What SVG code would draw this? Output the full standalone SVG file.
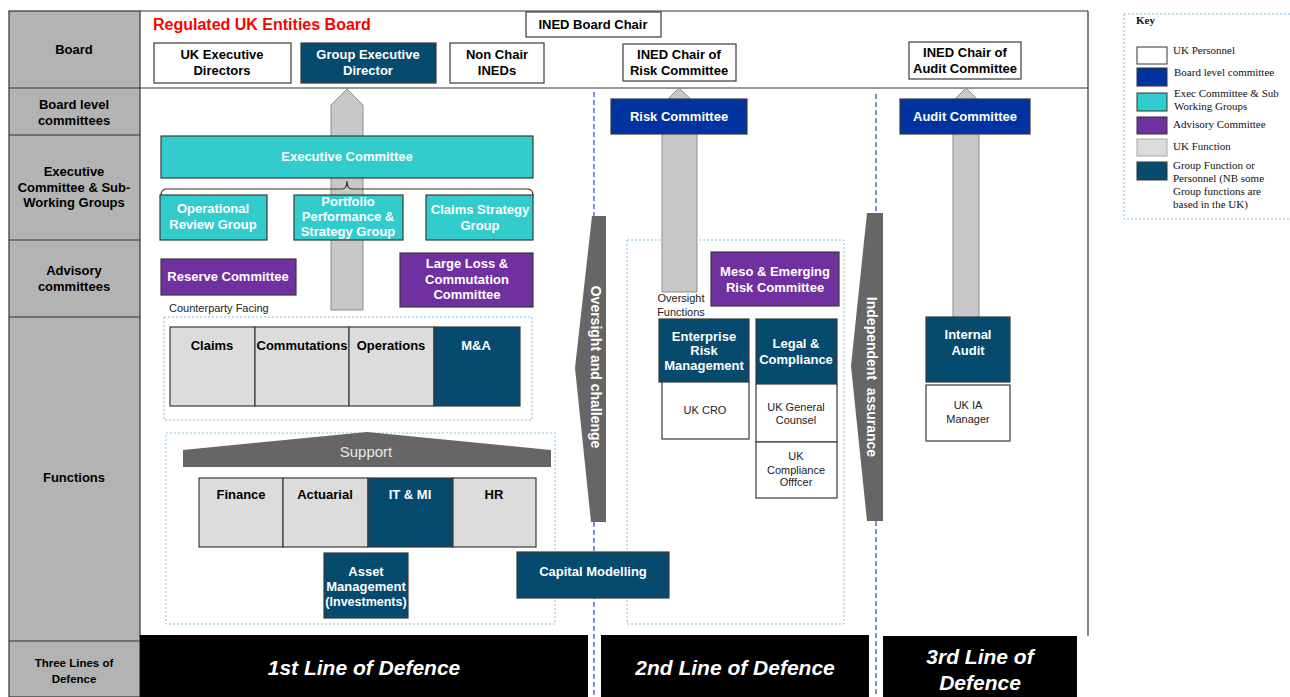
<svg xmlns="http://www.w3.org/2000/svg" width="1290" height="697" viewBox="0 0 1290 697">
<style>
text{font-family:"Liberation Sans",Arial,sans-serif;}
.t{font-weight:bold;font-size:13px;text-anchor:middle;fill:#000;}
.tw{font-weight:bold;font-size:13px;text-anchor:middle;fill:#fff;}
.ts{font-size:11px;text-anchor:middle;fill:#222;}
.white{fill:#fff;stroke:#3a3a3a;stroke-width:1.2;}
.dark{fill:#064a6e;stroke:#3a3a3a;stroke-width:1.2;}
.blue{fill:#0033a0;stroke:#3a3a3a;stroke-width:1.2;}
.teal{fill:#33cccc;stroke:#3a3a3a;stroke-width:1.2;}
.purple{fill:#7030a0;stroke:#3a3a3a;stroke-width:1.2;}
.func{fill:#dcdcdc;stroke:#3a3a3a;stroke-width:1.2;}
.dot{fill:none;stroke:#86c1e6;stroke-width:1;stroke-dasharray:2,2;}
.dash{fill:none;stroke:#4472c4;stroke-width:1.5;stroke-dasharray:5,3;}
.garrow{fill:#c8c8c8;stroke:#8c8c8c;stroke-width:1;}
.darrow{fill:#666;}
.lod{font-weight:bold;font-style:italic;font-size:21px;text-anchor:middle;fill:#fff;}
.key{font-family:"Liberation Serif","Times New Roman",serif;font-size:11px;fill:#111;}
</style>

<g id="background">
  <rect x="9" y="11" width="131" height="686" fill="#b3b3b3" stroke="#333" stroke-width="1.2"/>
  <g stroke="#333" stroke-width="1.2">
    <line x1="9" y1="88" x2="140" y2="88"/>
    <line x1="9" y1="135" x2="140" y2="135"/>
    <line x1="9" y1="240" x2="140" y2="240"/>
    <line x1="9" y1="317" x2="140" y2="317"/>
    <line x1="9" y1="641" x2="140" y2="641"/>
    <line x1="140" y1="11" x2="1088" y2="11"/>
    <line x1="140" y1="88" x2="1088" y2="88"/>
    <line x1="1088" y1="11" x2="1088" y2="636"/>
  </g>
  <text class="t" x="74" y="54">Board</text>
  <text class="t" x="74" y="109">Board level</text>
  <text class="t" x="74" y="125">committees</text>
  <text class="t" x="74" y="176">Executive</text>
  <text class="t" x="74" y="192">Committee &amp; Sub-</text>
  <text class="t" x="74" y="207">Working Groups</text>
  <text class="t" x="74" y="275">Advisory</text>
  <text class="t" x="74" y="291">committees</text>
  <text class="t" x="74" y="482">Functions</text>
  <text class="t" x="74" y="667" style="font-size:11.5px">Three Lines of</text>
  <text class="t" x="74" y="683" style="font-size:11.5px">Defence</text>
  <text x="153" y="30" font-weight="bold" font-size="16" fill="#ff0000">Regulated UK Entities Board</text>
  <line class="dash" x1="594" y1="92" x2="594" y2="216"/>
  <line class="dash" x1="594" y1="522" x2="594" y2="697"/>
  <line class="dash" x1="876" y1="94" x2="876" y2="213"/>
  <line class="dash" x1="876" y1="521" x2="876" y2="697"/>
  <rect class="dot" x="164" y="317" width="368" height="103"/>
  <rect class="dot" x="166" y="433" width="389" height="191"/>
  <rect class="dot" x="627" y="240" width="217" height="384"/>
  <text x="169" y="312" font-size="11" fill="#222">Counterparty Facing</text>
  <text class="ts" x="681" y="302">Oversight</text>
  <text class="ts" x="681" y="316">Functions</text>
</g>

<g id="connectors">
  <polygon class="garrow" points="347,89 363,105 363,310 331,310 331,105"/>
  <polygon class="garrow" points="679,88 697,105 697,292 662,292 662,105"/>
  <polygon class="garrow" points="966,88 979,101 979,318 953,318 953,101"/>
  <path d="M161,196 Q161,189 166,189 L342,189 Q347,189 347,181 Q347,189 352,189 L528,189 Q533,189 533,196" fill="none" stroke="#333" stroke-width="1.2"/>
  <g id="oversight-challenge">
    <polygon class="darrow" points="592,216 606,216 606,522 591,522 575,368"/>
    <text transform="translate(591,367) rotate(90)" font-weight="bold" font-size="14" fill="#fff" text-anchor="middle">Oversight and challenge</text>
  </g>
  <g id="independent-assurance">
    <polygon class="darrow" points="867,213 883,213 883,521 867,521 851,366"/>
    <text transform="translate(867,377) rotate(90)" font-weight="bold" font-size="14" fill="#fff" text-anchor="middle" xml:space="preserve">Independent  assurance</text>
  </g>
</g>

<g id="ined-board-chair"><rect class="white" x="526" y="12" width="135" height="25"/><text class="t" x="593" y="29">INED Board Chair</text></g>
<g id="uk-exec-directors"><rect class="white" x="154" y="43" width="137" height="40"/><text class="t" x="222" y="59">UK Executive</text><text class="t" x="222" y="75">Directors</text></g>
<g id="group-exec-director"><rect class="dark" x="301" y="43" width="135" height="40"/><text class="tw" x="368" y="59">Group Executive</text><text class="tw" x="368" y="75">Director</text></g>
<g id="non-chair-ineds"><rect class="white" x="450" y="43" width="94" height="40"/><text class="t" x="497" y="59">Non Chair</text><text class="t" x="497" y="75">INEDs</text></g>
<g id="ined-chair-risk"><rect class="white" x="623" y="44" width="113" height="37"/><text class="t" x="679" y="59">INED Chair of</text><text class="t" x="679" y="75">Risk Committee</text></g>
<g id="ined-chair-audit"><rect class="white" x="909" y="42" width="112" height="37"/><text class="t" x="965" y="57">INED Chair of</text><text class="t" x="965" y="73">Audit Committee</text></g>

<g id="risk-committee"><rect class="blue" x="611" y="99" width="136" height="35"/><text class="tw" x="679" y="121">Risk Committee</text></g>
<g id="audit-committee"><rect class="blue" x="900" y="99" width="130" height="35"/><text class="tw" x="965" y="121">Audit Committee</text></g>

<g id="executive-committee"><rect class="teal" x="161" y="136" width="372" height="42"/><text class="tw" x="347" y="161">Executive Committee</text></g>
<g id="operational-review-group"><rect class="teal" x="160" y="195" width="107" height="45"/><text class="tw" x="213" y="213">Operational</text><text class="tw" x="213" y="229">Review Group</text></g>
<g id="portfolio-group"><rect class="teal" x="294" y="195" width="109" height="45"/><text class="tw" x="348" y="206">Portfolio</text><text class="tw" x="348" y="221">Performance &amp;</text><text class="tw" x="348" y="236">Strategy Group</text></g>
<g id="claims-strategy-group"><rect class="teal" x="426" y="195" width="107" height="45"/><text class="tw" x="480" y="214">Claims Strategy</text><text class="tw" x="480" y="230">Group</text></g>

<g id="reserve-committee"><rect class="purple" x="161" y="259" width="135" height="36"/><text class="tw" x="228" y="281">Reserve Committee</text></g>
<g id="large-loss-committee"><rect class="purple" x="400" y="253" width="133" height="54"/><text class="tw" x="467" y="268">Large Loss &amp;</text><text class="tw" x="467" y="284">Commutation</text><text class="tw" x="467" y="299">Committee</text></g>

<g id="claims"><rect class="func" x="170" y="327" width="85" height="79"/><text class="t" x="212" y="350">Claims</text></g>
<g id="commutations"><rect class="func" x="255" y="327" width="94" height="79"/><text class="t" x="302" y="350">Commutations</text></g>
<g id="operations"><rect class="func" x="349" y="327" width="85" height="79"/><text class="t" x="391" y="350">Operations</text></g>
<g id="m-and-a"><rect class="dark" x="434" y="327" width="86" height="79"/><text class="tw" x="476" y="350">M&amp;A</text></g>

<g id="support"><polygon fill="#666" points="183,450 367,432 551,450 551,467 183,467"/><text x="366" y="457" font-size="15" fill="#e6e6e6" text-anchor="middle">Support</text></g>
<g id="finance"><rect class="func" x="199" y="478" width="84" height="69"/><text class="t" x="241" y="499">Finance</text></g>
<g id="actuarial"><rect class="func" x="283" y="478" width="85" height="69"/><text class="t" x="325" y="499">Actuarial</text></g>
<g id="it-mi"><rect class="dark" x="368" y="478" width="85" height="69"/><text class="tw" x="410" y="499">IT &amp; MI</text></g>
<g id="hr"><rect class="func" x="453" y="478" width="83" height="69"/><text class="t" x="494" y="499">HR</text></g>
<g id="asset-management"><rect class="dark" x="324" y="553" width="84" height="65"/><text class="tw" x="366" y="576">Asset</text><text class="tw" x="366" y="591">Management</text><text class="tw" x="366" y="606" style="font-size:12.5px">(Investments)</text></g>
<g id="capital-modelling"><rect class="dark" x="517" y="552" width="152" height="46"/><text class="tw" x="593" y="576">Capital Modelling</text></g>

<g id="meso-emerging-risk"><rect class="purple" x="711" y="252" width="128" height="54"/><text class="tw" x="775" y="276">Meso &amp; Emerging</text><text class="tw" x="775" y="292">Risk Committee</text></g>
<g id="enterprise-risk-management"><rect class="dark" x="659" y="319" width="90" height="63"/><text class="tw" x="704" y="341">Enterprise</text><text class="tw" x="704" y="355">Risk</text><text class="tw" x="704" y="370">Management</text></g>
<g id="uk-cro"><rect class="white" x="662" y="382" width="87" height="57"/><text class="ts" x="705" y="414">UK CRO</text></g>
<g id="legal-compliance"><rect class="dark" x="756" y="319" width="81" height="65"/><text class="tw" x="796" y="348">Legal &amp;</text><text class="tw" x="796" y="364">Compliance</text></g>
<g id="uk-general-counsel"><rect class="white" x="756" y="384" width="81" height="58"/><text class="ts" x="796" y="411">UK General</text><text class="ts" x="796" y="424">Counsel</text></g>
<g id="uk-compliance-officer"><rect class="white" x="756" y="442" width="81" height="56"/><text class="ts" x="796" y="460">UK</text><text class="ts" x="796" y="474">Compliance</text><text class="ts" x="796" y="486">Offfcer</text></g>

<g id="internal-audit"><rect class="dark" x="926" y="317" width="84" height="65"/><text class="tw" x="968" y="339">Internal</text><text class="tw" x="968" y="355">Audit</text></g>
<g id="uk-ia-manager"><rect class="white" x="926" y="385" width="84" height="56"/><text class="ts" x="968" y="409">UK IA</text><text class="ts" x="968" y="423">Manager</text></g>

<g id="first-line"><rect x="140" y="635" width="448" height="62" fill="#000"/><text class="lod" x="364" y="675">1st Line of Defence</text></g>
<g id="second-line"><rect x="601" y="635" width="268" height="62" fill="#000"/><text class="lod" x="735" y="675">2nd Line of Defence</text></g>
<g id="third-line"><rect x="883" y="636" width="194" height="61" fill="#000"/><text class="lod" x="980" y="664">3rd Line of</text><text class="lod" x="980" y="690">Defence</text></g>

<g id="key">
  <rect class="dot" x="1124" y="14" width="170" height="205"/>
  <text class="key" x="1136" y="24" font-weight="bold">Key</text>
  <rect x="1137" y="47" width="30" height="17" fill="#fff" stroke="#333"/>
  <text class="key" x="1173" y="54">UK Personnel</text>
  <rect x="1137" y="68" width="30" height="18" fill="#0033a0" stroke="#333"/>
  <text class="key" x="1174" y="76">Board level committee</text>
  <rect x="1137" y="93" width="30" height="18" fill="#33cccc" stroke="#333"/>
  <text class="key" x="1174" y="97">Exec Committee &amp; Sub</text>
  <text class="key" x="1174" y="110">Working Groups</text>
  <rect x="1137" y="117" width="30" height="17" fill="#7030a0" stroke="#333"/>
  <text class="key" x="1173" y="128">Advisory Committee</text>
  <rect x="1137" y="139" width="30" height="17" fill="#dcdcdc" stroke="#aaa"/>
  <text class="key" x="1173" y="150">UK Function</text>
  <rect x="1137" y="162" width="30" height="18" fill="#064a6e" stroke="#333"/>
  <text class="key" x="1173" y="169">Group Function or</text>
  <text class="key" x="1173" y="182">Personnel (NB some</text>
  <text class="key" x="1173" y="195">Group functions are</text>
  <text class="key" x="1173" y="208">based in the UK)</text>
</g>
</svg>
